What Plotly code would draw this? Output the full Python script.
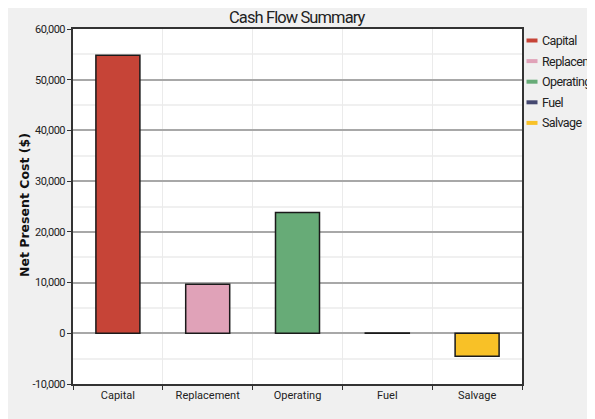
import plotly.graph_objects as go

categories = ["Capital", "Replacement", "Operating", "Fuel", "Salvage"]
values = [54800, 9650, 23800, 60, -4550]
colors = ["#c64437", "#e0a2b8", "#67ab77", "#454870", "#f8c127"]
bar_colors = ["#c64437", "#e0a2b8", "#67ab77", "#333333", "#f8c127"]
y_tickvals = [-10000, 0, 10000, 20000, 30000, 40000, 50000, 60000]


def tight(t, ls):
    return f'<span style="letter-spacing:{ls}px">{t}</span>'


y_ticktext = [tight(f"{v:,}", -0.5) for v in y_tickvals]

# page body has an 8px offset; figure coordinates below
W, H = 595, 419
L, R, T, B = 65, 514, 21, 376

def px_x(p):
    return (p - L) / (R - L)

def px_y(p):
    return (B - p) / (B - T)

NARROW = "Roboto, Liberation Sans, sans-serif"
NARROW_FONT = lambda s: dict(family=NARROW, size=s, color="#222222")

fig = go.Figure()
for c, v, col in zip(categories, values, bar_colors):
    fig.add_trace(go.Bar(
        x=[c], y=[v], name=c, width=0.49,
        marker=dict(color=col, line=dict(color="#1a1a1a", width=1.5)),
        showlegend=False,
    ))

shapes = []
annotations = []
leg_y0 = 32.5
for i, (c, col) in enumerate(zip(categories, colors)):
    py = leg_y0 + i * 20.6
    shapes.append(dict(type="line", xref="paper", yref="paper",
                       x0=px_x(518.5), x1=px_x(529.5), y0=px_y(py), y1=px_y(py),
                       line=dict(color=col, width=4)))
    annotations.append(dict(xref="paper", yref="paper", x=px_x(532), y=px_y(py),
                            text=tight(c, -0.6), showarrow=False, xanchor="left", yanchor="middle",
                            font=NARROW_FONT(12.5)))

annotations.append(dict(xref="paper", yref="paper", x=px_x(16), y=px_y(197),
                        text="<b>Net Present Cost ($)</b>", textangle=-90, showarrow=False,
                        xanchor="center", yanchor="middle",
                        font=dict(family="DejaVu Sans, Verdana, sans-serif", size=12.5, color="#111111")))
annotations.append(dict(xref="paper", yref="paper", x=px_x(289), y=px_y(9),
                        text=tight("Cash Flow Summary", -0.9), showarrow=False,
                        xanchor="center", yanchor="middle",
                        font=NARROW_FONT(16.5)))

fig.update_layout(
    width=W, height=H,
    margin=dict(l=L, r=W - R, t=T, b=H - B, pad=0),
    paper_bgcolor="#f0f0f0",
    plot_bgcolor="white",
    barmode="overlay",
    showlegend=False,
    shapes=shapes,
    annotations=annotations,
    xaxis=dict(
        type="category", range=[-0.5, 4.5], tickson="boundaries",
        showgrid=True, gridcolor="#ebebeb", gridwidth=1,
        ticks="outside", ticklen=4, tickcolor="#333333",
        showline=True, linecolor="#333333", linewidth=1.5, mirror=True,
        tickfont=NARROW_FONT(11),
        fixedrange=True,
    ),
    yaxis=dict(
        range=[-10000, 60000],
        tickvals=y_tickvals, ticktext=y_ticktext,
        showgrid=True, gridcolor="#a8a8a8", gridwidth=1.5,
        zeroline=True, zerolinecolor="#a8a8a8", zerolinewidth=1.5,
        minor=dict(dtick=5000, showgrid=True, gridcolor="#f0f0f0", gridwidth=1.5, tick0=0),
        ticks="outside", ticklen=4, tickcolor="#333333",
        showline=True, linecolor="#333333", linewidth=1.5, mirror=True,
        tickfont=NARROW_FONT(11),
        fixedrange=True,
    ),
)

fig.write_html("out.html")
